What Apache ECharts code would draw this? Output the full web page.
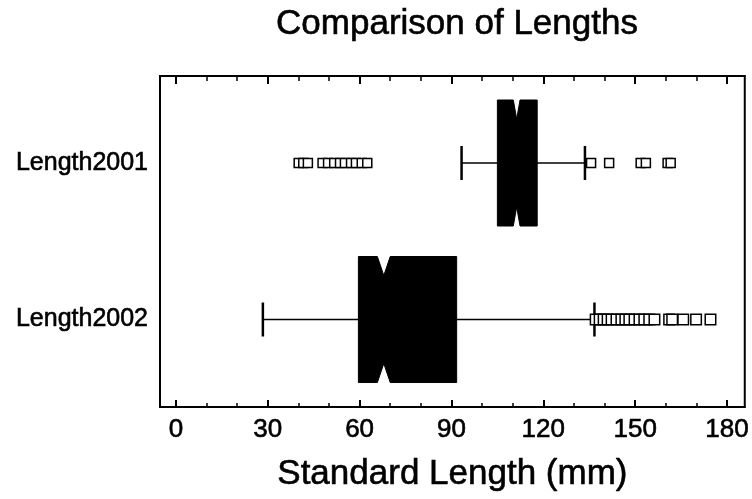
<!DOCTYPE html>
<html>
<head>
<meta charset="utf-8">
<script src="https://cdn.jsdelivr.net/npm/echarts@6/dist/echarts.min.js"></script>
<style>
html,body{margin:0;padding:0;background:#fff;}
#chart{width:752px;height:499px;}
</style>
</head>
<body>
<div id="chart"></div>
<script>
// Categories listed bottom-to-top (index = vertical position)
const categories = ['Length2002', 'Length2001'];
const whiskerLow  = [28.4, 93.3];
const q1          = [59.6, 105.0];
const notchLow    = [65.8, 110.2];
const median      = [67.9, 111.3];
const notchHigh   = [70.0, 112.4];
const q3          = [91.7, 118.0];
const whiskerHigh = [136.7, 133.6];

const outliers2001 = [40.1, 41.6, 43.1, 47.9, 49.7, 51.7, 53.6, 55.2, 57.2, 58.8, 60.7, 62.5,
                      135.6, 141.5, 151.8, 153.5, 160.6, 161.6];
const outliers2002 = [137.1, 138.4, 139.7, 141.0, 142.3, 143.9, 145.5, 146.8, 148.1, 149.8,
                      151.4, 153.0, 154.6, 156.3, 161.1, 162.1, 165.7, 169.9, 174.6];

const majorTicks = [0, 30, 60, 90, 120, 150, 180];
const minorTicks = [10, 20, 40, 50, 70, 80, 100, 110, 130, 140, 160, 170];

const FONT = 'Liberation Sans, Arial, Helvetica, sans-serif';

const boxData = categories.map((c, i) => [i, whiskerLow[i], q1[i], notchLow[i], median[i], notchHigh[i], q3[i], whiskerHigh[i]]);

function renderBox(params, api) {
  const yi = api.value(0);
  const pWL = api.coord([api.value(1), yi]);
  const pQ1 = api.coord([api.value(2), yi]);
  const pNL = api.coord([api.value(3), yi]);
  const pMed = api.coord([api.value(4), yi]);
  const pNH = api.coord([api.value(5), yi]);
  const pQ3 = api.coord([api.value(6), yi]);
  const pWH = api.coord([api.value(7), yi]);
  const cy = pMed[1];
  const half = 63;
  const capHalf = 17;
  const depth = 19;
  const top = cy - half, bot = cy + half;
  const poly = [
    [pQ1[0], top], [pNL[0], top], [pMed[0], top + depth], [pNH[0], top], [pQ3[0], top],
    [pQ3[0], bot], [pNH[0], bot], [pMed[0], bot - depth], [pNL[0], bot], [pQ1[0], bot]
  ];
  return {
    type: 'group',
    children: [
      { type: 'line', shape: { x1: pWL[0], y1: cy, x2: pWH[0], y2: cy }, style: { stroke: '#000', lineWidth: 1.5 } },
      { type: 'line', shape: { x1: pWL[0], y1: cy - capHalf, x2: pWL[0], y2: cy + capHalf }, style: { stroke: '#000', lineWidth: 2.5 } },
      { type: 'line', shape: { x1: pWH[0], y1: cy - capHalf, x2: pWH[0], y2: cy + capHalf }, style: { stroke: '#000', lineWidth: 2.5 } },
      { type: 'polygon', shape: { points: poly }, style: { fill: '#000', stroke: '#000', lineWidth: 1 } }
    ]
  };
}

const xBase = { type: 'value', min: -5.2, max: 185.8, gridIndex: 0, splitLine: { show: false } };
const textHeavy = { textBorderColor: '#000', textBorderWidth: 0.6 };

const chart = echarts.init(document.getElementById('chart'), null, { renderer: 'canvas' });
chart.setOption({
  backgroundColor: '#fff',
  animation: false,
  title: {
    text: 'Comparison of Lengths',
    left: 452, top: 2, textAlign: 'center',
    textStyle: Object.assign({ fontFamily: FONT, fontSize: 35, fontWeight: 'normal', color: '#000' }, textHeavy)
  },
  grid: { left: 160, right: 4, top: 76, bottom: 92, show: true, borderColor: '#000', borderWidth: 2, backgroundColor: 'transparent' },
  xAxis: [
    Object.assign({}, xBase, {
      position: 'bottom',
      name: 'Standard Length (mm)', nameLocation: 'middle', nameGap: 50,
      nameTextStyle: Object.assign({ fontFamily: FONT, fontSize: 35, color: '#000' }, textHeavy),
      axisLine: { show: true, onZero: false, lineStyle: { color: '#000', width: 2 } },
      axisTick: { show: true, inside: true, length: 7, customValues: majorTicks, lineStyle: { color: '#000', width: 2 } },
      axisLabel: Object.assign({ show: true, customValues: majorTicks, margin: 10, fontFamily: FONT, fontSize: 26, color: '#000' }, textHeavy)
    }),
    Object.assign({}, xBase, {
      position: 'bottom',
      axisLine: { show: false, onZero: false },
      axisTick: { show: true, inside: true, length: 4, customValues: minorTicks, lineStyle: { color: '#000', width: 1.5 } },
      axisLabel: { show: false }
    }),
    Object.assign({}, xBase, {
      position: 'top',
      axisLine: { show: true, onZero: false, lineStyle: { color: '#000', width: 2 } },
      axisTick: { show: true, inside: true, length: 8, customValues: majorTicks, lineStyle: { color: '#000', width: 2 } },
      axisLabel: { show: false }
    }),
    Object.assign({}, xBase, {
      position: 'top',
      axisLine: { show: false, onZero: false },
      axisTick: { show: true, inside: true, length: 5, customValues: minorTicks, lineStyle: { color: '#000', width: 1.5 } },
      axisLabel: { show: false }
    })
  ],
  yAxis: {
    type: 'value', min: -0.559, max: 1.556,
    splitLine: { show: false },
    axisLine: { show: true, onZero: false, lineStyle: { color: '#000', width: 2 } },
    axisTick: { show: false },
    axisLabel: Object.assign({
      show: true, customValues: [0, 1], margin: 12,
      fontFamily: FONT, fontSize: 25, color: '#000',
      formatter: v => categories[Math.round(v)]
    }, textHeavy)
  },
  series: [
    {
      type: 'custom', xAxisIndex: 0, yAxisIndex: 0,
      renderItem: renderBox,
      encode: { x: [1, 2, 3, 4, 5, 6, 7], y: 0 },
      data: boxData, z: 2
    },
    {
      type: 'scatter', xAxisIndex: 0, yAxisIndex: 0,
      symbol: 'rect', symbolSize: 9,
      itemStyle: { color: '#fff', borderColor: '#000', borderWidth: 1.5, opacity: 1 },
      data: outliers2001.map(v => [v, categories.indexOf('Length2001')]), z: 3
    },
    {
      type: 'scatter', xAxisIndex: 0, yAxisIndex: 0,
      symbol: 'rect', symbolSize: 10.5,
      itemStyle: { color: '#fff', borderColor: '#000', borderWidth: 1.5, opacity: 1 },
      data: outliers2002.map(v => [v, categories.indexOf('Length2002')]), z: 3
    }
  ]
});
</script>
</body>
</html>
